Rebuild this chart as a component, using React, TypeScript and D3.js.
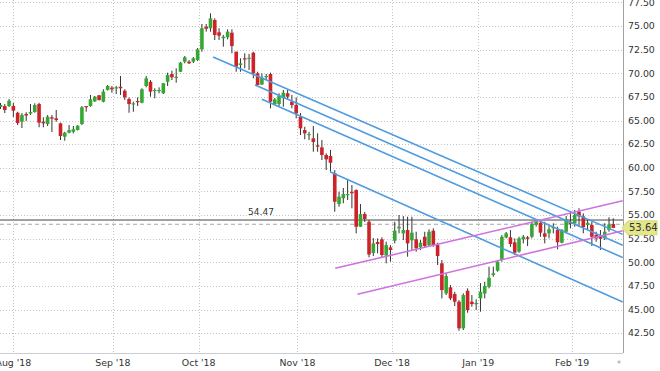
import React, { useEffect, useRef } from "react";
import * as d3 from "d3";

// daily candles, one per trading day, Aug 2018 .. mid Feb 2019
const opens = [
  66.43, 66.53, 66.53, 66.53, 65.82, 64.87, 65.69, 65.74, 65.9, 66.74,
  64.87, 64.63, 65.34, 65.23, 64.7, 63.28, 63.71, 63.81, 63.99, 64.63,
  66.53, 66.53, 67.03, 67.67, 66.99, 68.23, 68.47, 68.41, 68.57, 68.15,
  67.27, 66.71, 67.06, 66.88, 68.65, 69.1, 68.12, 68.15, 67.88, 69.1,
  69.92, 69.53, 70.16, 71.22, 71.22, 71.22, 71.4, 72.53, 74.92, 74.76,
  75.63, 74.33, 73.7, 73.8, 74.29, 72.28, 70.87, 71.58, 71.54, 72.17,
  69.99, 68.81, 69.6, 69.92, 66.71, 66.74, 67.35, 67.88, 66.99, 66.64,
  65.4, 63.99, 63.46, 63.11, 62.37, 62.16, 61.35, 61.24, 59.41, 56.16,
  56.77, 57.11, 57.46, 57.64, 53.76, 55.1, 54.29, 50.98, 52.14, 52.43,
  50.71, 51.58, 52.28, 53.59, 53.06, 53.41, 52.32, 52.43, 51.58, 52.7,
  51.82, 53.34, 51.82, 49.89, 46.71, 47.35, 46.64, 45.83, 43.01, 46.99,
  45.83, 45.58, 46.18, 46.69, 47.41, 48.65, 49.1, 50.24, 52.62, 52.64,
  52.11, 51.12, 52.43, 52.64, 52.7, 53.94, 54.18, 53.06, 53.06, 53.59,
  53.44, 52.07, 53.23, 54.29, 54.12, 55.35, 54.86, 53.94, 53.94, 52.88,
  52.7, 52.53, 53.41, 54.05,
];
const highs = [
  66.85, 66.74, 67.27, 66.85, 65.93, 65.79, 65.87, 66.74, 66.82, 66.88,
  65.34, 65.58, 65.58, 66.11, 64.77, 63.81, 64.52, 64.42, 64.52, 66.53,
  66.53, 67.7, 67.59, 67.7, 68.3, 68.76, 68.65, 68.65, 69.71, 68.3,
  67.45, 66.99, 67.45, 68.41, 69.71, 69.28, 68.41, 68.51, 68.97, 70.06,
  70.27, 70.52, 71.19, 71.82, 71.4, 71.72, 72.67, 75.21, 75.21, 76.34,
  75.81, 74.76, 74.05, 74.65, 74.65, 72.28, 71.58, 72.11, 72.04, 72.28,
  70.16, 69.99, 69.92, 70.06, 67.38, 67.88, 68.23, 68.23, 67.7, 67.45,
  65.79, 64.34, 63.81, 64.42, 63.64, 62.93, 61.53, 61.88, 59.76, 57.46,
  57.86, 58.7, 58.17, 57.72, 56.16, 55.32, 54.47, 52.56, 52.53, 52.64,
  52.17, 51.82, 54.29, 55.0, 54.89, 54.82, 54.82, 53.23, 52.35, 53.23,
  53.49, 53.59, 52.07, 50.24, 48.83, 47.59, 46.88, 46.0, 46.71, 47.24,
  46.53, 46.08, 47.8, 47.94, 49.53, 49.53, 50.24, 52.88, 53.2, 53.41,
  52.53, 52.7, 52.88, 52.78, 54.29, 54.54, 54.29, 54.29, 53.83, 54.12,
  53.76, 53.52, 54.89, 55.35, 55.53, 55.71, 55.18, 54.47, 54.29, 53.23,
  53.41, 54.12, 54.76, 54.65,
];
const lows = [
  66.22, 65.79, 66.43, 65.37, 64.52, 64.2, 64.95, 65.58, 65.82, 64.28,
  64.28, 64.42, 63.78, 64.87, 62.93, 62.86, 63.64, 63.64, 63.94, 64.52,
  65.93, 66.46, 66.96, 67.11, 66.92, 68.17, 67.94, 67.8, 67.7, 67.17,
  65.82, 65.93, 66.53, 66.82, 68.51, 67.52, 67.35, 67.88, 67.8, 68.65,
  69.28, 69.0, 70.13, 71.05, 70.98, 71.08, 71.3, 72.28, 74.4, 74.4,
  73.52, 73.52, 72.81, 73.59, 72.11, 70.16, 70.16, 70.52, 70.34, 69.46,
  68.7, 68.76, 69.28, 66.29, 66.64, 66.53, 66.46, 67.17, 66.29, 65.23,
  63.46, 63.01, 62.93, 61.7, 61.7, 60.82, 59.76, 59.58, 55.35, 55.88,
  56.24, 56.59, 55.71, 53.06, 53.73, 54.26, 50.52, 50.66, 50.95, 50.45,
  49.89, 50.06, 52.0, 53.06, 52.35, 50.59, 51.3, 51.12, 51.3, 51.51,
  51.64, 51.64, 49.71, 46.18, 46.53, 46.0, 45.37, 42.76, 42.83, 44.66,
  45.3, 44.95, 44.77, 46.18, 47.24, 48.47, 49.0, 50.06, 52.53, 51.64,
  50.77, 51.01, 52.0, 51.72, 52.53, 53.76, 52.7, 52.0, 52.53, 53.06,
  51.37, 52.0, 53.06, 53.59, 53.76, 53.76, 53.06, 53.41, 51.72, 52.17,
  51.3, 52.35, 53.23, 53.6,
];
const closes = [
  66.64, 66.11, 67.09, 66.04, 64.73, 65.58, 65.53, 65.9, 66.64, 64.77,
  64.7, 65.4, 65.19, 65.05, 63.36, 63.71, 63.99, 64.07, 64.45, 66.4,
  66.4, 67.24, 67.52, 67.17, 68.05, 68.65, 68.3, 68.51, 68.41, 67.45,
  66.74, 66.82, 66.96, 68.3, 69.46, 68.05, 68.23, 68.23, 68.94, 69.81,
  69.57, 69.63, 71.12, 71.69, 71.05, 71.58, 72.53, 74.76, 74.71, 75.81,
  74.05, 73.97, 73.87, 74.4, 72.88, 70.69, 71.05, 71.47, 71.64, 69.99,
  68.76, 69.53, 69.71, 66.99, 67.24, 67.59, 67.94, 67.52, 66.64, 65.76,
  64.17, 63.64, 63.57, 62.72, 62.23, 61.35, 60.89, 60.53, 56.41, 56.94,
  57.22, 57.22, 57.3, 53.76, 55.1, 54.58, 50.82, 52.0, 51.93, 50.77,
  51.82, 51.3, 53.34, 53.76, 53.41, 52.0, 53.13, 51.47, 52.07, 51.72,
  53.23, 51.82, 50.66, 47.06, 48.54, 46.18, 45.83, 43.01, 46.53, 44.95,
  45.58, 45.69, 46.88, 47.49, 48.36, 48.83, 50.06, 52.7, 53.06, 51.93,
  51.01, 52.53, 52.7, 52.49, 54.08, 54.47, 53.13, 52.7, 53.49, 53.76,
  52.11, 53.41, 54.58, 54.05, 55.0, 54.86, 53.73, 54.18, 52.7, 52.53,
  52.49, 53.23, 54.01, 53.64,
];

// month labels sit at the first trading day of each month (candle index)
const monthLabels = ["Aug '18", "Sep '18", "Oct '18", "Nov '18", "Dec '18", "Jan '19", "Feb '19"];
const monthIndex = [3, 26.2, 46.25, 69.3, 91.4, 111.5, 133.4];

const priceTicks = [42.5, 45, 47.5, 50, 52.5, 55, 57.5, 60, 62.5, 65, 67.5, 70, 72.5, 75, 77.5];

const markedLevel = 54.47;
const prevCloseLevel = 54.02;
const lastPrice = 53.64;

// drawn trend lines: [startIndex, startPrice, endIndex, endPrice]
const blueLines = [
  [49.6, 71.72, 145.2, 52.95],
  [59.4, 68.76, 145.2, 51.8],
  [61.0, 67.24, 145.2, 50.5],
  [76.9, 59.58, 145.2, 45.8],
];
const violetLines = [
  [78.1, 49.36, 145.2, 56.51],
  [83.3, 46.61, 145.2, 53.34],
];

const W = 660;
const H = 371;
const PLOT_R = 623;
const PLOT_B = 353;
const FONT = "'DejaVu Sans', Verdana, sans-serif";

const App: React.FC = () => {
  const svgRef = useRef<SVGSVGElement | null>(null);

  useEffect(() => {
    if (!svgRef.current) return;
    const svg = d3.select(svgRef.current);
    svg.selectAll("*").remove();

    const x = d3.scaleLinear().domain([0, closes.length - 1]).range([0.5, 613.3]);
    const y = d3.scaleLinear().domain([40.4, 77.75]).range([PLOT_B, 0]);

    svg.append("rect").attr("width", W).attr("height", H).attr("fill", "#fff");

    svg
      .append("defs")
      .append("clipPath")
      .attr("id", "plot-clip")
      .append("rect")
      .attr("x", 0)
      .attr("y", 0)
      .attr("width", PLOT_R)
      .attr("height", PLOT_B);

    // grid
    const grid = svg.append("g");
    priceTicks.forEach((p) => {
      grid
        .append("line")
        .attr("x1", 0)
        .attr("x2", PLOT_R)
        .attr("y1", Math.round(y(p)) + 0.5)
        .attr("y2", Math.round(y(p)) + 0.5)
        .attr("stroke", "#c4c4c4")
        .attr("stroke-dasharray", "1,2");
    });
    monthIndex.forEach((m) => {
      grid
        .append("line")
        .attr("x1", Math.round(x(m)) + 0.5)
        .attr("x2", Math.round(x(m)) + 0.5)
        .attr("y1", 0)
        .attr("y2", PLOT_B)
        .attr("stroke", "#c4c4c4")
        .attr("stroke-dasharray", "1,2");
    });

    // axes frame
    svg
      .append("line")
      .attr("x1", PLOT_R + 0.5)
      .attr("x2", PLOT_R + 0.5)
      .attr("y1", 0)
      .attr("y2", PLOT_B)
      .attr("stroke", "#a0a0a0");
    svg
      .append("line")
      .attr("x1", 0)
      .attr("x2", PLOT_R)
      .attr("y1", PLOT_B + 0.5)
      .attr("y2", PLOT_B + 0.5)
      .attr("stroke", "#c8ccd4");

    // price axis labels
    svg
      .append("g")
      .selectAll("text")
      .data(priceTicks)
      .join("text")
      .attr("x", 628)
      .attr("y", (d) => y(d))
      .attr("dy", "0.35em")
      .attr("font-family", FONT)
      .attr("font-size", 9.4)
      .attr("fill", "#333")
      .text((d) => d.toFixed(2));

    // month labels
    svg
      .append("g")
      .selectAll("text")
      .data(monthLabels)
      .join("text")
      .attr("x", (_d, i) => x(monthIndex[i]))
      .attr("y", 363)
      .attr("dy", "0.35em")
      .attr("text-anchor", "middle")
      .attr("font-family", FONT)
      .attr("font-size", 9.4)
      .attr("fill", "#333")
      .text((d) => d);

    const plot = svg.append("g").attr("clip-path", "url(#plot-clip)");

    // reference levels
    plot
      .append("line")
      .attr("x1", 0)
      .attr("x2", PLOT_R)
      .attr("y1", y(markedLevel))
      .attr("y2", y(markedLevel))
      .attr("stroke", "#444")
      .attr("stroke-width", 1);
    plot
      .append("line")
      .attr("x1", 0)
      .attr("x2", PLOT_R)
      .attr("y1", y(prevCloseLevel))
      .attr("y2", y(prevCloseLevel))
      .attr("stroke", "#a8a8a8")
      .attr("stroke-dasharray", "4,3");
    svg
      .append("text")
      .attr("x", 261)
      .attr("y", y(markedLevel) - 5)
      .attr("text-anchor", "middle")
      .attr("font-family", FONT)
      .attr("font-size", 9)
      .attr("fill", "#333")
      .text(markedLevel.toFixed(2));

    // candles
    const idx = d3.range(closes.length);
    const candles = plot.append("g");
    const bw = 3.6;
    candles
      .selectAll("line")
      .data(idx)
      .join("line")
      .attr("x1", (i) => x(i))
      .attr("x2", (i) => x(i))
      .attr("y1", (i) => y(highs[i]))
      .attr("y2", (i) => y(lows[i]))
      .attr("stroke", "#333")
      .attr("stroke-width", 1);
    candles
      .selectAll("rect")
      .data(idx)
      .join("rect")
      .attr("x", (i) => x(i) - bw / 2)
      .attr("width", bw)
      .attr("y", (i) => y(Math.max(opens[i], closes[i])))
      .attr("height", (i) => Math.max(1.2, Math.abs(y(opens[i]) - y(closes[i]))))
      .attr("fill", (i) => (closes[i] >= opens[i] ? "#35a834" : "#cc2228"));

    // trend lines
    const drawLines = (lines: number[][], color: string) => {
      lines.forEach(([i0, p0, i1, p1]) => {
        plot
          .append("line")
          .attr("x1", x(i0))
          .attr("y1", y(p0))
          .attr("x2", x(i1))
          .attr("y2", y(p1))
          .attr("stroke", color)
          .attr("stroke-width", 1.6);
      });
    };
    drawLines(blueLines, "#4f9be0");
    drawLines(violetLines, "#cf72e0");

    // last price tag
    const ly = y(lastPrice);
    svg
      .append("path")
      .attr(
        "d",
        `M${PLOT_R - 1},${ly} L${PLOT_R + 5},${ly - 7} L${W - 3},${ly - 7} L${W - 3},${ly + 7} L${PLOT_R + 5},${ly + 7} Z`
      )
      .attr("fill", "#e3e68a")
      .attr("stroke", "#d6d970");
    svg
      .append("text")
      .attr("x", 629)
      .attr("y", ly)
      .attr("dy", "0.36em")
      .attr("font-family", FONT)
      .attr("font-size", 10)
      .attr("fill", "#333")
      .text(lastPrice.toFixed(2));

    // marker at the right end of the time axis
    svg
      .append("text")
      .attr("x", 619)
      .attr("y", 364)
      .attr("dy", "0.35em")
      .attr("text-anchor", "middle")
      .attr("font-family", FONT)
      .attr("font-size", 8)
      .attr("fill", "#999")
      .text("*");
  }, []);

  return (
    <svg
      ref={svgRef}
      width={W}
      height={H}
      style={{ position: "absolute", left: 0, top: 0, display: "block" }}
    />
  );
};

export default App;
